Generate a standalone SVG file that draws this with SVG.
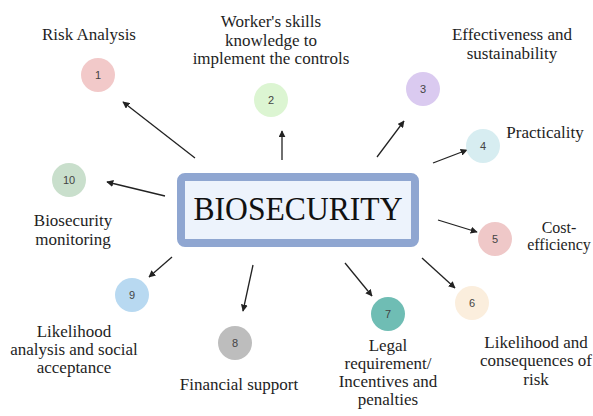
<svg xmlns="http://www.w3.org/2000/svg" width="593" height="416" viewBox="0 0 593 416">
  <defs>
    <marker id="arrow" viewBox="0 0 10 10" refX="9" refY="5" markerWidth="7" markerHeight="7" markerUnits="userSpaceOnUse" orient="auto">
      <path d="M0,0 L10,5 L0,10 z" fill="#222"/>
    </marker>
  </defs>
  <rect width="593" height="416" fill="#ffffff"/>

  <!-- central box -->
  <g id="biosecurity">
    <rect x="181" y="177" width="234" height="66" rx="4" fill="#edf3fc" stroke="#8fa6d1" stroke-width="8"/>
    <text x="298" y="220" font-family="Liberation Serif, Times New Roman, serif" font-size="33" fill="#111" text-anchor="middle" textLength="209" lengthAdjust="spacingAndGlyphs">BIOSECURITY</text>
  </g>

  <!-- connectors -->
  <g id="connectors" stroke="#222" stroke-width="1.3" marker-end="url(#arrow)">
    <line x1="195" y1="158" x2="123" y2="102"/>
    <line x1="282" y1="160" x2="282" y2="131"/>
    <line x1="377" y1="157" x2="404" y2="121"/>
    <line x1="433" y1="163" x2="467" y2="150"/>
    <line x1="438" y1="220" x2="477" y2="232"/>
    <line x1="422" y1="258" x2="455" y2="288"/>
    <line x1="345" y1="263" x2="372" y2="296"/>
    <line x1="253" y1="265" x2="243" y2="311"/>
    <line x1="172" y1="257" x2="149" y2="277"/>
    <line x1="165" y1="196" x2="107" y2="182"/>
  </g>

  <!-- numbered circles -->
  <g font-family="Liberation Sans, Arial, sans-serif" font-size="11" fill="#444" text-anchor="middle">
    <g id="node1"><circle cx="98" cy="75" r="17" fill="#f2c9c9"/><text x="98" y="79">1</text></g>
    <g id="node2"><circle cx="271" cy="100" r="17" fill="#dcf5d2"/><text x="271" y="104">2</text></g>
    <g id="node3"><circle cx="423" cy="89" r="17" fill="#dacaf0"/><text x="423" y="93">3</text></g>
    <g id="node4"><circle cx="483" cy="146" r="17" fill="#d7edf1"/><text x="483" y="150">4</text></g>
    <g id="node5"><circle cx="495" cy="239" r="17" fill="#efc8c8"/><text x="495" y="243">5</text></g>
    <g id="node6"><circle cx="472" cy="303" r="17" fill="#fbeedd"/><text x="472" y="307">6</text></g>
    <g id="node7"><circle cx="388" cy="314" r="17" fill="#6fbdb4"/><text x="388" y="318">7</text></g>
    <g id="node8"><circle cx="235" cy="343" r="17" fill="#bdbdbd"/><text x="235" y="347">8</text></g>
    <g id="node9"><circle cx="132" cy="295" r="17" fill="#b8d9f1"/><text x="132" y="299">9</text></g>
    <g id="node10"><circle cx="69" cy="180" r="17" fill="#c9dfcc"/><text x="69" y="184">10</text></g>
  </g>

  <!-- labels -->
  <g id="labels" font-family="Liberation Serif, Times New Roman, serif" font-size="17" fill="#1e1e1e" text-anchor="middle">
    <text x="89" y="40">Risk Analysis</text>
    <text x="271" y="27">Worker's skills</text>
    <text x="271" y="46">knowledge to</text>
    <text x="271" y="64">implement the controls</text>
    <text x="512" y="40">Effectiveness and</text>
    <text x="512" y="59">sustainability</text>
    <text x="545" y="138">Practicality</text>
    <text x="559" y="233" font-size="16">Cost-</text>
    <text x="559" y="250" font-size="16">efficiency</text>
    <text x="536" y="348">Likelihood and</text>
    <text x="536" y="366">consequences of</text>
    <text x="536" y="385">risk</text>
    <text x="388" y="351">Legal</text>
    <text x="388" y="369">requirement/</text>
    <text x="388" y="387">Incentives and</text>
    <text x="388" y="405">penalties</text>
    <text x="239" y="390">Financial support</text>
    <text x="74" y="337">Likelihood</text>
    <text x="74" y="355">analysis and social</text>
    <text x="74" y="373">acceptance</text>
    <text x="73" y="226">Biosecurity</text>
    <text x="73" y="245">monitoring</text>
  </g>
</svg>
